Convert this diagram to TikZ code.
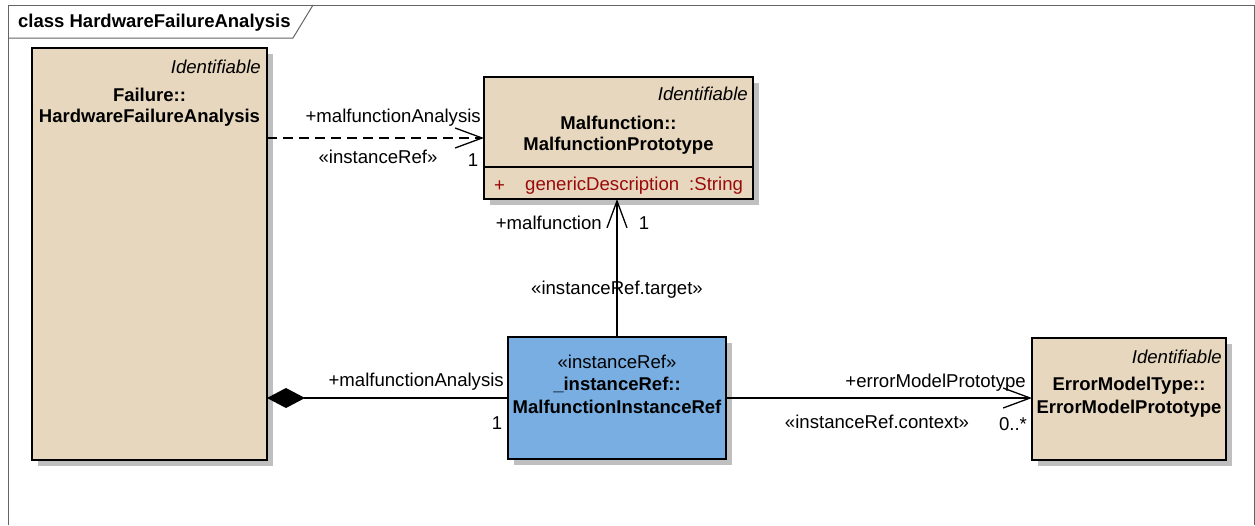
\documentclass[tikz,border=0pt]{standalone}
\usepackage{fontspec}
\setmainfont{Liberation Sans}
\usetikzlibrary{arrows.meta,shadows}
\definecolor{classbeige}{RGB}{230,215,190}
\definecolor{refblue}{RGB}{121,174,226}
\definecolor{attrred}{RGB}{155,10,10}
\definecolor{framegray}{RGB}{100,100,100}
\begin{document}
\begin{tikzpicture}[x=1pt,y=-1pt,
    txt/.style={inner sep=0pt, font=\fontsize{18.6}{21}\selectfont},
    ital/.style={inner sep=0pt, anchor=east, font=\fontsize{18.6}{21}\selectfont\itshape},
    bold/.style={inner sep=0pt, font=\fontsize{18.5}{21}\selectfont\bfseries},
    classbox/.style={draw, line width=1.5pt, fill=classbeige, anchor=north west, inner sep=0pt, outer sep=0pt,
        drop shadow={shadow xshift=6pt, shadow yshift=-6pt, fill=black!25, opacity=1}},
    assoc/.style={line width=1.3pt},
    openhead/.style={-{Straight Barb[length=27pt, width=20pt, line width=1.3pt]}}]
        \useasboundingbox (0,0) rectangle (1255,525);

        % frame and title tab
        \draw[framegray, line width=1pt] (8,525) -- (8,5) -- (1254,5) -- (1254,525);
        \draw[framegray, line width=1pt] (8,38) -- (293,38) -- (313,5);
        \node[bold, anchor=west] (title) at (18,23) {class HardwareFailureAnalysis};

        % classes
        \node[classbox, minimum width=235pt, minimum height=412pt] (fail) at (32,48) {};
        \node[ital] (failst) at (261,67) {Identifiable};
        \node[bold] (failns) at (149.5,95) {Failure::};
        \node[bold] (failname) at (149.5,118) {HardwareFailureAnalysis};

        \node[classbox, minimum width=269pt, minimum height=122pt] (mproto) at (484,77) {};
        \node[ital] (mprotost) at (748,94) {Identifiable};
        \node[bold] (mprotons) at (618.5,123) {Malfunction::};
        \node[bold] (mprotoname) at (618.5,146) {MalfunctionPrototype};
        \draw[line width=1.5pt] (484,167) -- (753,167);
        \node[txt, anchor=west, text=attrred] (attrvis) at (494,186) {+};
        \node[txt, anchor=west, text=attrred] (attr) at (525,186) {genericDescription\hspace{10pt}:String};

        \node[classbox, fill=refblue, minimum width=218pt, minimum height=122pt] (iref) at (508,337) {};
        \node[txt] (irefst) at (617,362) {«instanceRef»};
        \node[bold] (irefns) at (617,385) {\_instanceRef::};
        \node[bold] (irefname) at (617,407) {MalfunctionInstanceRef};

        \node[classbox, minimum width=194pt, minimum height=122pt] (emproto) at (1032,338) {};
        \node[ital] (emprotost) at (1222,357) {Identifiable};
        \node[bold] (emprotons) at (1129,386) {ErrorModelType::};
        \node[bold] (emprotoname) at (1129,409) {ErrorModelPrototype};

        % connectors
        \draw[assoc, dash pattern=on 10pt off 6pt, openhead] (mproto.west -| fail.east) -- (mproto.west);
        \draw[assoc, openhead] (iref.north) -- (iref.north |- mproto.south);
        \draw[assoc, {Diamond[length=38pt, width=20pt]}-] (iref.west -| fail.east) -- (iref.west);
        \draw[assoc, openhead] (iref.east) -- (iref.east -| emproto.west);

        % connector labels
        \node[txt, anchor=east] (roleA) at (481,118) {+malfunctionAnalysis};
        \node[txt] (stA) at (378,157) {«instanceRef»};
        \node[txt] (mulA) at (473,160) {1};
        \node[txt, anchor=east] (roleB) at (602,223) {+malfunction};
        \node[txt] (mulB) at (644,223) {1};
        \node[txt] (stB) at (617,290) {«instanceRef.target»};
        \node[txt, anchor=east] (roleC) at (504,382) {+malfunctionAnalysis};
        \node[txt] (mulC) at (497,423) {1};
        \node[txt, anchor=east] (roleD) at (1026,383) {+errorModelPrototype};
        \node[txt] (stD) at (877,422) {«instanceRef.context»};
        \node[txt] (mulD) at (1013,424) {0..*};
    \end{tikzpicture}
\end{document}
